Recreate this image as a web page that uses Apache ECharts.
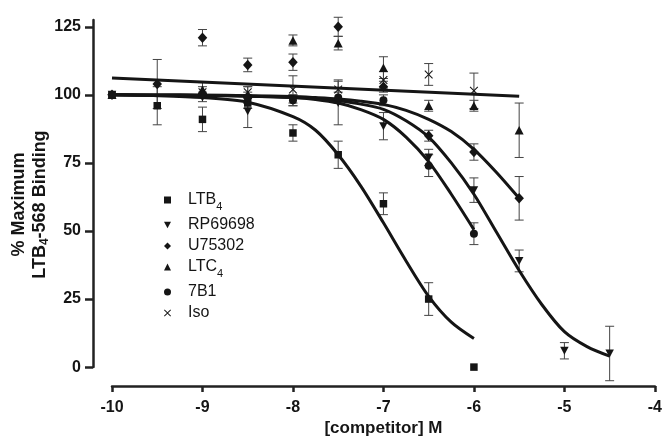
<!DOCTYPE html>
<html><head><meta charset="utf-8">
<script src="https://cdn.jsdelivr.net/npm/echarts@6/dist/echarts.min.js"></script>
<style>html,body{margin:0;padding:0;background:#fff}#c{width:665px;height:442px}</style>
</head><body><div id="c"></div>
<script>
// ---- data ----
const xTicks = [-10, -9, -8, -7, -6, -5, -4];
const yTicks = [0, 25, 50, 75, 100, 125];
const seriesNames = ['LTB4', 'RP69698', 'U75302', 'LTC4', '7B1', 'Iso'];

// measured points: [log concentration, % binding, error]
const ltb4Pts = [[-10,100,0],[-9.5,96,7],[-9,91,4.5],[-8.5,97,2],[-8,86,3],[-7.5,78,5],[-7,60,4],[-6.5,25,6],[-6,0,0]];
const rpPts   = [[-10,100,0],[-9,99,1.5],[-8.5,94,6],[-8,98,2],[-7.5,97,8],[-7,88.5,5],[-6.5,77,3],[-6,65,4.5],[-5.5,39,4],[-5,6,3],[-4.5,5,10]];
const u75Pts  = [[-10,100,0],[-9.5,104,9],[-9,121,3],[-8.5,111,2.5],[-8,112,3],[-7.5,125,3.5],[-7,103,2],[-6.5,85,2],[-6,79,3],[-5.5,62,8]];
const ltc4Pts = [[-10,100,0],[-9,102,2.5],[-8.5,100,3],[-8,120,2],[-7.5,119,2.5],[-7,110,4],[-6.5,96,2],[-6,96,2],[-5.5,87,10]];
const b71Pts  = [[-10,100,0],[-9,100,1],[-8.5,99,2],[-8,98,2],[-7.5,99,2],[-7,98,2],[-6.5,74,4],[-6,49,4]];
const isoPts  = [[-9,101,2],[-8.5,101,2],[-8,102,5],[-7.5,102,3.5],[-7,105.5,3],[-6.5,107.5,4],[-6,101.5,6.5]];

// fitted curves
const ltb4CurveX = [-10,-9.5,-9,-8.5,-8,-7.75,-7.5,-7.25,-7,-6.75,-6.5,-6.25,-6];
const ltb4CurveY = [100,99.7,99,97.3,92,87,78,66.5,53,39,26,16.5,10.5];
const rpCurveX = [-10,-9.5,-9,-8.5,-8,-7.75,-7.5,-7.25,-7,-6.75,-6.5,-6.25,-6,-5.75,-5.5,-5.25,-5,-4.75,-4.5];
const rpCurveY = [100,99.9,99.8,99.5,99,98.6,97.8,96.6,94.7,90.5,84.5,75,63.5,49.5,35.5,23,13,7.5,4];
const u75CurveX = [-10,-9.5,-9,-8.5,-8,-7.75,-7.5,-7.25,-7,-6.75,-6.5,-6.25,-6,-5.75,-5.5];
const u75CurveY = [100,99.95,99.9,99.7,99.4,99,98.5,97.7,96.5,94.3,91,86.5,80,71.5,62];
const b71CurveX = [-10,-9.5,-9,-8.5,-8,-7.75,-7.5,-7.25,-7,-6.75,-6.5,-6.25,-6];
const b71CurveY = [100,99.95,99.9,99.6,99,98.3,97,94.6,91,84.5,75.5,63.5,50.5];
const flatLineX = [-10,-5.5];
const flatLineY = [106.2,99.5];

// ---- chart ----
const FONT = '"Liberation Sans", Arial, Helvetica, sans-serif';
const INK = '#151515';
const chart = echarts.init(document.getElementById('c'), null, {renderer: 'canvas'});

const zip = (xs, ys) => xs.map((x, i) => [x, ys[i]]);
const xPath = 'path://M0,0.9 L0.9,0 L5,4.1 L9.1,0 L10,0.9 L5.9,5 L10,9.1 L9.1,10 L5,5.9 L0.9,10 L0,9.1 L4.1,5 Z';
const downTri = 'path://M0,0 L10,0 L5,9 Z';

const markers = {
  'LTB4':   {symbol: 'rect', size: 7.5},
  'RP69698':{symbol: 'triangle', size: [8.5, 8], rotate: 180},
  'U75302': {symbol: 'diamond', size: [9.5, 10.5]},
  'LTC4':   {symbol: 'triangle', size: [9, 8.5]},
  '7B1':    {symbol: 'circle', size: 8},
  'Iso':    {symbol: xPath, size: 8.5}
};
const ptsBy = {'LTB4': ltb4Pts, 'RP69698': rpPts, 'U75302': u75Pts, 'LTC4': ltc4Pts, '7B1': b71Pts, 'Iso': isoPts};

function errSeries(pts, name) {
  return {
    type: 'custom', name: name + ' err', silent: true, z: 2, clip: false,
    data: pts.filter(p => p[2] > 0).map(p => [p[0], p[1] - p[2], p[1] + p[2]]),
    encode: {x: 0, y: [1, 2]},
    renderItem: (params, api) => {
      const lo = api.coord([api.value(0), api.value(1)]);
      const hi = api.coord([api.value(0), api.value(2)]);
      const w = 4.5;
      const st = {stroke: '#444', lineWidth: 1};
      return {type: 'group', children: [
        {type: 'line', shape: {x1: lo[0], y1: lo[1], x2: hi[0], y2: hi[1]}, style: st},
        {type: 'line', shape: {x1: lo[0]-w, y1: lo[1], x2: lo[0]+w, y2: lo[1]}, style: st},
        {type: 'line', shape: {x1: hi[0]-w, y1: hi[1], x2: hi[0]+w, y2: hi[1]}, style: st}
      ]};
    }
  };
}
function curve(xs, ys, name) {
  return {type: 'line', name: name, data: zip(xs, ys), showSymbol: false, smooth: 0.3,
    silent: true, z: 3, lineStyle: {color: INK, width: 3}};
}

const series = [];
series.push(curve(flatLineX, flatLineY, 'flat fit'));
series.push(curve(ltb4CurveX, ltb4CurveY, 'LTB4 fit'));
series.push(curve(rpCurveX, rpCurveY, 'RP69698 fit'));
series.push(curve(u75CurveX, u75CurveY, 'U75302 fit'));
series.push(curve(b71CurveX, b71CurveY, '7B1 fit'));
seriesNames.forEach(n => series.push(errSeries(ptsBy[n], n)));
seriesNames.forEach(n => {
  const m = markers[n];
  series.push({type: 'scatter', name: n, z: 4, silent: true,
    data: ptsBy[n].map(p => [p[0], p[1]]),
    symbol: m.symbol, symbolSize: m.size, symbolRotate: m.rotate || 0,
    itemStyle: {color: INK, opacity: 1}});
});

const legendIcons = {'LTB4': 'rect', 'RP69698': downTri, 'U75302': 'diamond', 'LTC4': 'triangle', '7B1': 'circle', 'Iso': xPath};

chart.setOption({
  animation: false,
  backgroundColor: '#fff',
  grid: {left: 112, right: 7, top: 20, bottom: 73, containLabel: false},
  legend: {
    orient: 'vertical', left: 159, top: 187, itemGap: 5, itemWidth: 7, itemHeight: 7,
    selectedMode: false,
    data: seriesNames.map(n => ({name: n, icon: legendIcons[n]})),
    itemStyle: {color: INK},
    formatter: n => (n === 'LTB4' || n === 'LTC4') ? `{a|${n.slice(0, -1)}}{s|4}` : `{a|${n}}`,
    textStyle: {
      rich: {
        a: {fontFamily: FONT, fontSize: 16, color: INK, padding: [0, 0, 0, 12]},
        s: {fontFamily: FONT, fontSize: 11, color: INK, verticalAlign: 'bottom', padding: [0, 0, -4, 0]}
      }
    }
  },
  xAxis: {
    type: 'value', min: -10, max: -4, interval: 1, offset: 19,
    axisLine: {onZero: false, lineStyle: {color: '#222', width: 2.5}},
    axisTick: {length: 6, lineStyle: {color: '#222', width: 2.5}},
    axisLabel: {margin: 13, fontFamily: FONT, fontWeight: 'bold', fontSize: 16, color: INK,
      formatter: v => String(v)},
    splitLine: {show: false},
    name: '[competitor] M', nameLocation: 'middle', nameGap: 31,
    nameTextStyle: {fontFamily: FONT, fontWeight: 'bold', fontSize: 17, color: INK}
  },
  yAxis: {
    type: 'value', min: 0, max: 127.5, interval: 25, offset: 19,
    axisLine: {show: true, onZero: false, lineStyle: {color: '#222', width: 2.5}},
    axisTick: {show: true, length: 8, lineStyle: {color: '#222', width: 2.5}, customValues: yTicks},
    axisLabel: {margin: 12, fontFamily: FONT, fontWeight: 'bold', fontSize: 16, color: INK, customValues: yTicks},
    splitLine: {show: false},
    name: '{t|% Maximum}\n{t|LTB}{s|4}{t|-568 Binding}',
    nameLocation: 'middle', nameGap: 42, nameMoveOverlap: false,
    nameTextStyle: {
      padding: [0, 22, 0, 0],
      rich: {
        t: {fontFamily: FONT, fontWeight: 'bold', fontSize: 18, color: INK, lineHeight: 21},
        s: {fontFamily: FONT, fontWeight: 'bold', fontSize: 12, color: INK, lineHeight: 12, verticalAlign: 'bottom'}
      }
    }
  },
  series: series
});
</script>
</body></html>
